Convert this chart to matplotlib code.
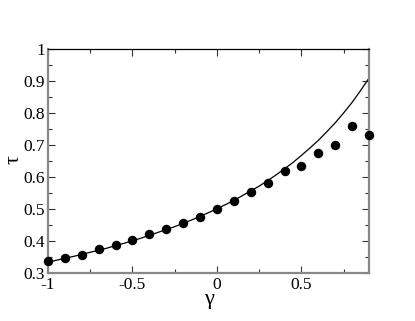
import matplotlib
matplotlib.use("Agg")
import matplotlib.pyplot as plt
from matplotlib.ticker import MultipleLocator

# Data points (symbols)
gamma_pts = [-1.0, -0.9, -0.8, -0.7, -0.6, -0.5, -0.4, -0.3, -0.2, -0.1,
             0.0, 0.1, 0.2, 0.3, 0.4, 0.5, 0.6, 0.7, 0.8, 0.9]
tau_pts = [0.338, 0.345, 0.356, 0.373, 0.386, 0.401, 0.420, 0.438, 0.455, 0.474,
           0.499, 0.524, 0.551, 0.582, 0.618, 0.634, 0.674, 0.700, 0.760, 0.732]

# Curve
gamma_line = [-1.0, -0.95, -0.9, -0.85, -0.8, -0.75, -0.7, -0.65, -0.6, -0.55,
              -0.5, -0.45, -0.4, -0.35, -0.3, -0.25, -0.2, -0.15, -0.1, -0.05,
              0.0, 0.05, 0.1, 0.15, 0.2, 0.25, 0.3, 0.35, 0.4, 0.45,
              0.5, 0.55, 0.6, 0.65, 0.7, 0.75, 0.8, 0.85, 0.9]
tau_line = [0.333, 0.339, 0.345, 0.351, 0.357, 0.364, 0.370, 0.377, 0.385, 0.392,
            0.400, 0.408, 0.417, 0.426, 0.435, 0.444, 0.455, 0.465, 0.476, 0.488,
            0.500, 0.513, 0.526, 0.541, 0.556, 0.571, 0.588, 0.606, 0.625, 0.645,
            0.667, 0.690, 0.714, 0.741, 0.769, 0.800, 0.833, 0.870, 0.909]

xticks = [-1, -0.5, 0, 0.5]
xticklabels = ["-1", "-0.5", "0", "0.5"]
yticks = [0.3, 0.4, 0.5, 0.6, 0.7, 0.8, 0.9, 1.0]
yticklabels = ["0.3", "0.4", "0.5", "0.6", "0.7", "0.8", "0.9", "1"]

plt.rcParams['font.family'] = ['Liberation Serif', 'DejaVu Serif']

fig = plt.figure(figsize=(4.15, 3.21), dpi=100)
ax = fig.add_axes([48/415, 1 - 272.7/321, (369 - 48)/415, (272.7 - 49)/321])

ax.plot(gamma_line, tau_line, color='black', lw=0.9, zorder=2)
ax.plot(gamma_pts, tau_pts, 'o', color='black', ms=5.8, zorder=3, clip_on=False)

ax.set_xlim(-1, 0.9)
ax.set_ylim(0.3, 1.0)
ax.set_xticks(xticks)
ax.set_xticklabels(xticklabels)
ax.set_yticks(yticks)
ax.set_yticklabels(yticklabels)
ax.xaxis.set_minor_locator(MultipleLocator(0.25))
ax.yaxis.set_minor_locator(MultipleLocator(0.05))
ax.tick_params(which='both', direction='in', top=True, right=True,
               labelsize=12.5, width=0.8, color='#333333')
ax.tick_params(axis='x', which='both', pad=3)
ax.tick_params(axis='y', which='both', pad=2)
ax.tick_params(which='major', length=5)
ax.tick_params(which='minor', length=3)

for side in ['left', 'right', 'bottom']:
    ax.spines[side].set_color('#888888')
    ax.spines[side].set_linewidth(1.6)
ax.spines['top'].set_color('black')
ax.spines['top'].set_linewidth(0.9)

ax.set_xlabel('γ', fontsize=16, labelpad=-2)
ax.set_ylabel('τ', fontsize=16, va='center')
ax.yaxis.set_label_coords((14 - 48) / 321, (272.7 - 160) / 223.7)

fig.savefig('out.png', dpi=100)
